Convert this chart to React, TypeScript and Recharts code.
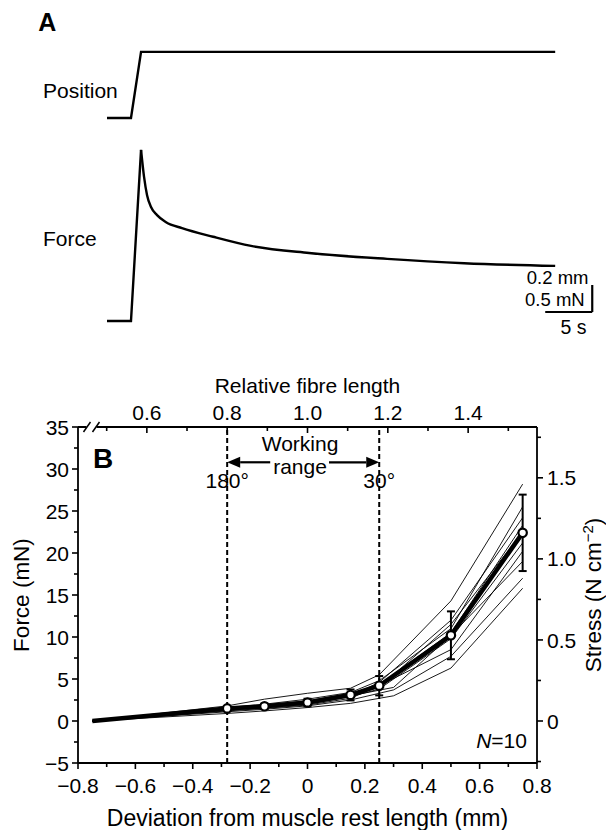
import React from "react";
import {
  ComposedChart,
  Line,
  XAxis,
  YAxis,
  ReferenceLine,
  ReferenceDot,
  ErrorBar,
} from "recharts";

const FONT = '"Liberation Sans", Arial, Helvetica, sans-serif';
const FS = 21;
const TITLE_FS = 22.5;
const INK = "#000";

// ---- panel A: one stretch trial (time in s) ----
const posTime = [0, 2.55, 3.62, 47.66];
const posValue = [0, 0, 0.49, 0.49]; // mm
const riseTime = [0, 2.55, 3.62];
const riseForce = [0, 0, 3.17]; // mN
const decayTime = [3.62, 3.94, 4.26, 4.68, 5.32, 6.28, 7.98, 11.28, 15.32, 21.49, 29.79, 37.98, 47.66];
const decayForce = [3.17, 2.67, 2.33, 2.11, 1.96, 1.83, 1.72, 1.56, 1.39, 1.26, 1.15, 1.07, 1.02];
const scaleBarTime = [46.6, 51.6]; // 5 s
const scaleBarForce = [0.167, 0.667]; // 0.5 mN / 0.2 mm

// ---- panel B: passive force vs length ----
const devGrid = [-0.75, -0.28, -0.15, 0, 0.15, 0.25, 0.5, 0.75];
const devGridLate = [-0.75, -0.28, -0.15, 0, 0.15, 0.3, 0.5, 0.75];
const meanForce = [0, 1.5, 1.75, 2.2, 3.1, 4.2, 10.2, 22.4];
const meanErr = [0, 0.2, 0.3, 0.45, 0.65, 1.15, 2.85, 4.55];

const muscle1 = [0, 1.8, 2.6, 3.3, 3.9, 5.5, 14.3, 28.2];
const muscle2 = [0, 1.6, 2.0, 2.6, 3.4, 4.8, 11.0, 25.5];
const muscle3 = [0, 1.5, 1.8, 2.3, 3.0, 4.6, 12.0, 24.2];
const muscle4 = [0, 1.4, 1.7, 2.1, 3.1, 4.3, 10.5, 23.3];
const muscle5 = [0, 1.5, 1.9, 2.4, 3.3, 4.0, 11.5, 22.5];
const muscle6 = [0, 1.3, 1.6, 2.0, 2.9, 3.8, 9.8, 21.2];
const muscle7 = [0, 1.2, 1.5, 1.9, 2.7, 4.2, 8.5, 20.2];
const muscle8 = [0, 1.4, 1.6, 2.2, 3.0, 4.0, 10.2, 19.0];
const muscle9 = [0, 1.1, 1.4, 1.8, 2.5, 3.7, 7.7, 17.0];
const muscle10 = [0, 0.9, 1.2, 1.6, 2.1, 3.0, 6.3, 15.8];

const muscles = [
  { xs: devGrid, ys: muscle1 },
  { xs: devGrid, ys: muscle2 },
  { xs: devGrid, ys: muscle3 },
  { xs: devGrid, ys: muscle4 },
  { xs: devGrid, ys: muscle5 },
  { xs: devGrid, ys: muscle6 },
  { xs: devGrid, ys: muscle7 },
  { xs: devGridLate, ys: muscle8 },
  { xs: devGridLate, ys: muscle9 },
  { xs: devGridLate, ys: muscle10 },
];

const workingRange = [-0.28, 0.25]; // mm (180 deg .. 30 deg)
const restLength = 1.4; // mm, for relative fibre length
const mNPerStress = 19.3; // mN per N cm^-2

const devTicks = [-0.8, -0.7, -0.6, -0.5, -0.4, -0.3, -0.2, -0.1, 0, 0.1, 0.2, 0.3, 0.4, 0.5, 0.6, 0.7, 0.8];
const relTicks = [0.5, 0.6, 0.7, 0.8, 0.9, 1.0, 1.1, 1.2, 1.3, 1.4, 1.5];
const forceTicks = [-5, -2.5, 0, 2.5, 5, 7.5, 10, 12.5, 15, 17.5, 20, 22.5, 25, 27.5, 30, 32.5, 35];
const stressTicks = [-0.25, 0, 0.25, 0.5, 0.75, 1.0, 1.25, 1.5, 1.75];

const pts = (xs: number[], ys: number[]) => xs.map((x, i) => ({ x, y: ys[i] }));
const minus = (s: string) => s.replace("-", "\u2212");

const txt = (
  s: React.ReactNode,
  anchor: "start" | "middle" | "end",
  extra: Record<string, any> = {}
) =>
  (p: any) => (
    <text
      x={p.cx}
      y={p.cy}
      textAnchor={anchor}
      fontFamily={FONT}
      fontSize={FS}
      fill={INK}
      {...extra}
    >
      {s}
    </text>
  );

function PanelA() {
  // pixel layout of the traces
  const top = 40;
  const bottom = 340;
  const posZeroY = 118;
  const posPxPerMm = 135;
  const forceZeroY = 321;
  const forcePxPerMN = 54;
  const posDomain = [-(bottom - posZeroY) / posPxPerMm, (posZeroY - top) / posPxPerMm];
  const forceDomain = [-(bottom - forceZeroY) / forcePxPerMN, (forceZeroY - top) / forcePxPerMN];
  const trace = {
    xAxisId: "t",
    dataKey: "y",
    stroke: INK,
    strokeWidth: 2.4,
    dot: false,
    activeDot: false,
    isAnimationActive: false,
  } as const;

  return (
    <ComposedChart width={606} height={345} margin={{ top, right: 10, bottom: 345 - bottom, left: 107 }}>
      <XAxis xAxisId="t" type="number" dataKey="x" domain={[0, 52]} hide allowDataOverflow />
      <YAxis yAxisId="pos" type="number" domain={posDomain} hide allowDataOverflow />
      <YAxis yAxisId="force" type="number" domain={forceDomain} hide allowDataOverflow />
      <Line {...trace} yAxisId="pos" type="linear" data={pts(posTime, posValue)} />
      <Line {...trace} yAxisId="force" type="linear" data={pts(riseTime, riseForce)} />
      <Line {...trace} yAxisId="force" type="monotone" data={pts(decayTime, decayForce)} />
      <ReferenceLine
        xAxisId="t"
        yAxisId="force"
        segment={[
          { x: scaleBarTime[0], y: scaleBarForce[0] },
          { x: scaleBarTime[1], y: scaleBarForce[0] },
        ]}
        stroke={INK}
        strokeWidth={2.2}
        ifOverflow="visible"
      />
      <ReferenceLine
        xAxisId="t"
        yAxisId="force"
        segment={[
          { x: scaleBarTime[1], y: scaleBarForce[0] },
          { x: scaleBarTime[1], y: scaleBarForce[1] },
        ]}
        stroke={INK}
        strokeWidth={2.2}
        ifOverflow="visible"
      />
      <ReferenceDot xAxisId="t" yAxisId="force" x={-7.3} y={5.37} r={0} ifOverflow="visible"
        shape={txt("A", "start", { fontWeight: "bold", fontSize: 25 })} />
      <ReferenceDot xAxisId="t" yAxisId="pos" x={-6.8} y={0.15} r={0} ifOverflow="visible"
        shape={txt("Position", "start")} />
      <ReferenceDot xAxisId="t" yAxisId="force" x={-6.8} y={1.39} r={0} ifOverflow="visible"
        shape={txt("Force", "start")} />
      <ReferenceDot xAxisId="t" yAxisId="force" x={51.2} y={0.69} r={0} ifOverflow="visible"
        shape={txt("0.2 mm", "end", { fontSize: 18.5 })} />
      <ReferenceDot xAxisId="t" yAxisId="force" x={50.8} y={0.28} r={0} ifOverflow="visible"
        shape={txt("0.5 mN", "end", { fontSize: 18.5 })} />
      <ReferenceDot xAxisId="t" yAxisId="force" x={49.6} y={-0.24} r={0} ifOverflow="visible"
        shape={txt("5 s", "middle", { fontSize: 19.5 })} />
    </ComposedChart>
  );
}

const AX = { stroke: INK, strokeWidth: 1.8 };

function BottomTick({ x, y, payload }: any) {
  const v = payload.value;
  const major = Math.round(v * 10) % 2 === 0;
  const label = v === 0 ? "0" : minus(v.toFixed(1));
  return (
    <g>
      <line x1={x} x2={x} y1={y} y2={y + (major ? 6 : 4)} stroke={INK} strokeWidth={1.6} />
      {major && (
        <text x={x} y={y + 30} textAnchor="middle" fontFamily={FONT} fontSize={FS} fill={INK}>
          {label}
        </text>
      )}
    </g>
  );
}

function TopTick({ x, y, payload }: any) {
  const v = payload.value;
  const major = Math.round(v * 10) % 2 === 0;
  return (
    <g>
      <line x1={x} x2={x} y1={y} y2={y + (major ? 6 : 4)} stroke={INK} strokeWidth={1.6} />
      {major && (
        <text x={x} y={y - 7} textAnchor="middle" fontFamily={FONT} fontSize={FS} fill={INK}>
          {v.toFixed(1)}
        </text>
      )}
    </g>
  );
}

function LeftTick({ x, y, payload }: any) {
  const v = payload.value;
  const major = v % 5 === 0;
  return (
    <g>
      <line x1={x} x2={x - (major ? 6 : 4)} y1={y} y2={y} stroke={INK} strokeWidth={1.6} />
      {major && (
        <text x={x - 9} y={y} dy="0.36em" textAnchor="end" fontFamily={FONT} fontSize={FS} fill={INK}>
          {minus(String(v))}
        </text>
      )}
    </g>
  );
}

function RightTick({ x, y, payload }: any) {
  const v = payload.value;
  const major = Math.round(v * 4) % 2 === 0;
  const label = v === 0 ? "0" : v.toFixed(1);
  return (
    <g>
      <line x1={x} x2={x + (major ? 6 : 4)} y1={y} y2={y} stroke={INK} strokeWidth={1.6} />
      {major && (
        <text x={x + 10} y={y} dy="0.36em" textAnchor="start" fontFamily={FONT} fontSize={FS} fill={INK}>
          {label}
        </text>
      )}
    </g>
  );
}

function Arrow({ x1, y1, x2, y2 }: any) {
  const dir = Math.sign(x2 - x1);
  const head = 13;
  return (
    <g>
      <line x1={x1} y1={y1} x2={x2 - dir * head} y2={y2} stroke={INK} strokeWidth={2.2} />
      <polygon
        points={`${x2},${y2} ${x2 - dir * head},${y2 - 5.5} ${x2 - dir * head},${y2 + 5.5}`}
        fill={INK}
      />
    </g>
  );
}

function BreakMark({ cx, cy }: any) {
  return (
    <g stroke={INK} strokeWidth={1.5}>
      <rect x={cx - 5} y={cy - 2} width={10} height={4} fill="#fff" stroke="none" />
      <line x1={cx - 8} y1={cy + 5} x2={cx - 1} y2={cy - 5} />
      <line x1={cx + 1} y1={cy + 5} x2={cx + 8} y2={cy - 5} />
    </g>
  );
}

function MeanDot({ cx, cy, index }: any) {
  if (index === 0) return <g key={`d${index}`} />;
  return <circle key={`d${index}`} cx={cx} cy={cy} r={4.2} fill="#fff" stroke={INK} strokeWidth={2.2} />;
}

function PanelB() {
  const relDomain = [1 - 0.8 / restLength, 1 + 0.8 / restLength];
  const stressDomain = [-5 / mNPerStress, 35 / mNPerStress];
  const meanData = devGrid.map((x, i) => ({ x, y: meanForce[i], err: meanErr[i] }));
  // same mean curve expressed in relative fibre length, only to bind the top axis
  const meanRel = devGrid.map((x, i) => ({ x: 1 + x / restLength, y: meanForce[i] }));
  const titleProps = { fontFamily: FONT, fontSize: TITLE_FS, fill: INK };

  return (
    <ComposedChart width={606} height={470} margin={{ top: 37, right: 29, bottom: 37, left: 38 }}>
      <XAxis
        xAxisId="dev"
        type="number"
        dataKey="x"
        domain={[-0.8, 0.8]}
        ticks={devTicks}
        interval={0}
        height={30}
        tickSize={0}
        tickMargin={0}
        tickLine={false}
        axisLine={AX}
        tick={(p: any) => <BottomTick {...p} />}
        allowDataOverflow
        label={(p: any) => {
          const vb = p.viewBox;
          return (
            <text x={vb.x + vb.width / 2} y={vb.y + 63} textAnchor="middle" {...titleProps} fontSize={23}>
              Deviation from muscle rest length (mm)
            </text>
          );
        }}
      />
      <XAxis
        xAxisId="rel"
        orientation="top"
        type="number"
        dataKey="x"
        domain={relDomain}
        ticks={relTicks}
        interval={0}
        height={30}
        tickSize={0}
        tickMargin={0}
        tickLine={false}
        axisLine={AX}
        tick={(p: any) => <TopTick {...p} />}
        allowDataOverflow
        label={(p: any) => {
          const vb = p.viewBox;
          return (
            <text x={vb.x + vb.width / 2} y={vb.y - 4} textAnchor="middle" {...titleProps} fontSize={FS}>
              Relative fibre length
            </text>
          );
        }}
      />
      <YAxis
        yAxisId="force"
        type="number"
        domain={[-5, 35]}
        ticks={forceTicks}
        interval={0}
        width={40}
        tickSize={0}
        tickMargin={0}
        tickLine={false}
        axisLine={AX}
        tick={(p: any) => <LeftTick {...p} />}
        allowDataOverflow
        label={(p: any) => {
          const vb = p.viewBox;
          const cx = vb.x - 17;
          const cy = vb.y + vb.height / 2;
          return (
            <text x={cx} y={cy} dy="0.35em" textAnchor="middle" transform={`rotate(-90 ${cx} ${cy})`} {...titleProps}>
              Force (mN)
            </text>
          );
        }}
      />
      <YAxis
        yAxisId="stress"
        orientation="right"
        type="number"
        domain={stressDomain}
        ticks={stressTicks}
        interval={0}
        width={40}
        tickSize={0}
        tickMargin={0}
        tickLine={false}
        axisLine={AX}
        tick={(p: any) => <RightTick {...p} />}
        allowDataOverflow
        label={(p: any) => {
          const vb = p.viewBox;
          const cx = vb.x + 56;
          const cy = vb.y + vb.height / 2;
          return (
            <text x={cx} y={cy} dy="0.35em" textAnchor="middle" transform={`rotate(-90 ${cx} ${cy})`} {...titleProps}>
              Stress (N cm
              <tspan dy={-8} fontSize={15}>{"\u22122"}</tspan>
              <tspan dy={8}>)</tspan>
            </text>
          );
        }}
      />

      {workingRange.map((x) => (
        <ReferenceLine
          key={`wr${x}`}
          xAxisId="dev"
          yAxisId="force"
          x={x}
          stroke={INK}
          strokeWidth={2}
          strokeDasharray="5 3"
        />
      ))}

      <Line
        xAxisId="rel"
        yAxisId="force"
        data={meanRel}
        dataKey="y"
        stroke="none"
        dot={false}
        activeDot={false}
        legendType="none"
        isAnimationActive={false}
      />
      {muscles.map((m, i) => (
        <Line
          key={`m${i}`}
          xAxisId="dev"
          yAxisId="force"
          data={pts(m.xs, m.ys)}
          dataKey="y"
          type="linear"
          stroke={INK}
          strokeWidth={0.9}
          dot={false}
          activeDot={false}
          isAnimationActive={false}
        />
      ))}
      <Line
        xAxisId="dev"
        yAxisId="force"
        data={meanData}
        dataKey="y"
        type="linear"
        stroke={INK}
        strokeWidth={4.5}
        strokeLinejoin="round"
        dot={(p: any) => <MeanDot {...p} />}
        activeDot={false}
        isAnimationActive={false}
      >
        <ErrorBar dataKey="err" direction="y" width={4} stroke={INK} strokeWidth={2} />
      </Line>

      <ReferenceLine
        xAxisId="dev"
        yAxisId="force"
        segment={[{ x: -0.13, y: 30.8 }, { x: workingRange[0], y: 30.8 }]}
        shape={(p: any) => <Arrow {...p} />}
      />
      <ReferenceLine
        xAxisId="dev"
        yAxisId="force"
        segment={[{ x: 0.075, y: 30.8 }, { x: workingRange[1], y: 30.8 }]}
        shape={(p: any) => <Arrow {...p} />}
      />
      <ReferenceDot xAxisId="dev" yAxisId="force" x={-0.026} y={32.2} r={0} shape={txt("Working", "middle")} />
      <ReferenceDot xAxisId="dev" yAxisId="force" x={-0.026} y={29.4} r={0} shape={txt("range", "middle")} />
      <ReferenceDot xAxisId="dev" yAxisId="force" x={workingRange[0]} y={27.7} r={0} shape={txt("180°", "middle")} />
      <ReferenceDot xAxisId="dev" yAxisId="force" x={workingRange[1]} y={27.7} r={0} shape={txt("30°", "middle")} />
      <ReferenceDot xAxisId="dev" yAxisId="force" x={-0.748} y={30.1} r={0}
        shape={txt("B", "start", { fontWeight: "bold", fontSize: 28 })} />
      <ReferenceDot xAxisId="dev" yAxisId="force" x={0.765} y={-3.2} r={0}
        shape={txt(<><tspan fontStyle="italic">N</tspan>=10</>, "end")} />
      <ReferenceDot xAxisId="dev" yAxisId="force" x={-0.753} y={35} r={0} ifOverflow="visible"
        shape={(p: any) => <BreakMark {...p} />} />
    </ComposedChart>
  );
}

export default function App() {
  return (
    <div style={{ position: "absolute", left: 0, top: 0, width: 606, height: 830, background: "#fff" }}>
      <div style={{ position: "absolute", left: 0, top: 0 }}>
        <PanelA />
      </div>
      <div style={{ position: "absolute", left: 0, top: 360 }}>
        <PanelB />
      </div>
    </div>
  );
}
